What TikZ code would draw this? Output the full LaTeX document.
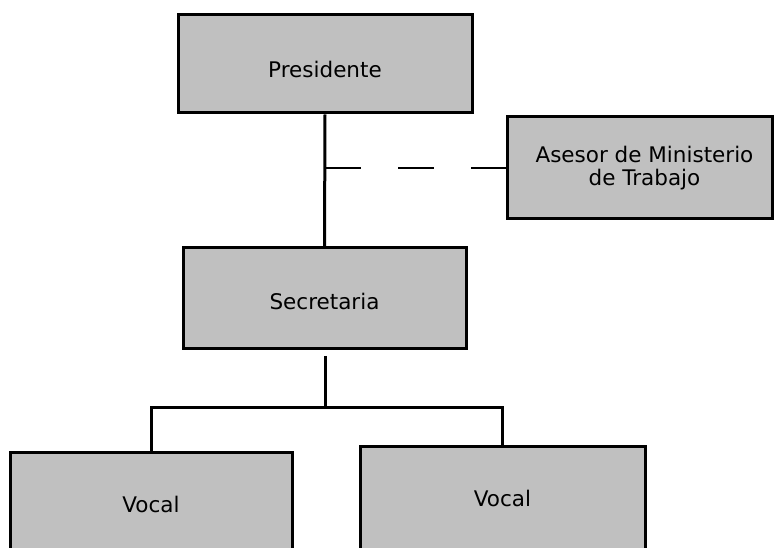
\documentclass[tikz,border=0pt]{standalone}
\usepackage{fontspec}
\setmainfont{DejaVu Sans}
\definecolor{boxgray}{HTML}{C0C0C0}
\newcommand{\placetext}[2]{\raisebox{-#1pt}[0pt][0pt]{#2}}
\begin{document}
\begin{tikzpicture}[x=1pt,y=-1pt,
  orgbox/.style={draw=black,line width=3pt,fill=boxgray,inner sep=0pt,font=\fontsize{21.5}{23}\selectfont,align=center},
  conn/.style={line width=3pt,black},
  dconn/.style={line width=1.6pt,black,dash pattern=on 36pt off 37pt}]
\useasboundingbox (0,0) rectangle (780,548);
\clip (0,0) rectangle (780,548);
\node[orgbox,minimum width=294pt,minimum height=98pt] (pres) at (325,64) {\placetext{13.5}{Presidente}};
\node[orgbox,minimum width=265pt,minimum height=102pt] (ases) at (639.5,168) {\hspace*{10pt}Asesor de Ministerio\\\hspace*{10pt}de Trabajo};
\node[orgbox,minimum width=283pt,minimum height=101pt] (sec) at (324.5,298.5) {\placetext{11}{Secretaria}};
\node[orgbox,minimum width=282pt,minimum height=120pt] (v1) at (151,512) {\placetext{0.5}{Vocal}};
\node[orgbox,minimum width=285pt,minimum height=126pt] (v2) at (502.5,509) {\placetext{-2.5}{Vocal}};
\coordinate (d) at (325,168);
\coordinate (s0) at (325,356);
\coordinate (j) at (325,407);
\draw[conn] (pres.south) -- (sec.north);
\draw[dconn] (d) -- (ases.west);
\draw[conn] (s0) -- (j);
\draw[conn] (v1.north) |- (j) -| (v2.north);
\end{tikzpicture}
\end{document}
